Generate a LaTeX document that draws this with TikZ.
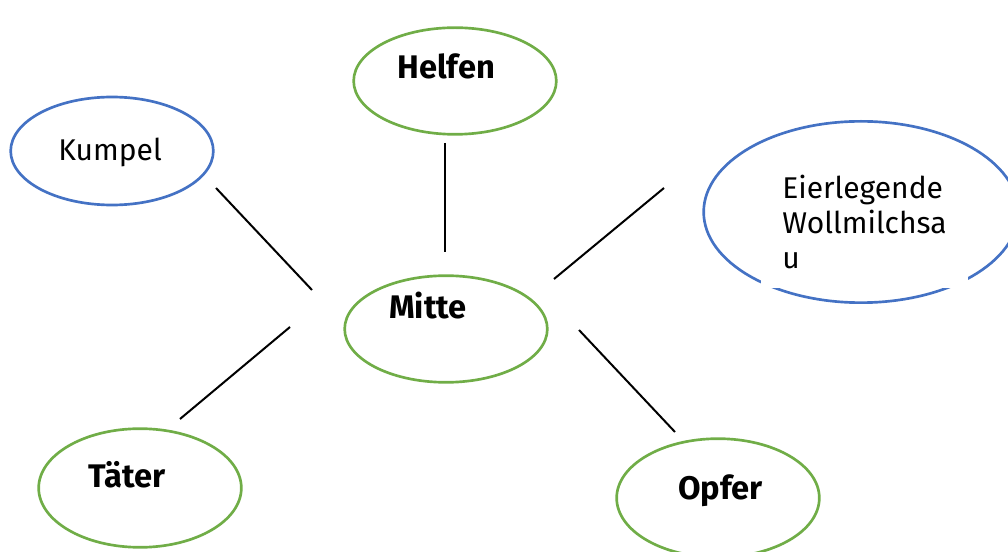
\documentclass[tikz,border=0pt]{standalone}
\usepackage{fontspec}
\setmainfont{Fira Sans}
\usetikzlibrary{shapes.geometric}
\definecolor{lgreen}{RGB}{112,173,71}
\definecolor{lblue}{RGB}{68,114,196}
\tikzset{
  bubble/.style={ellipse, draw, line width=2pt, inner sep=0pt},
  gbubble/.style={bubble, draw=lgreen},
  bbubble/.style={bubble, draw=lblue},
  lbl/.style={anchor=base west, inner sep=0pt, font=\fontsize{22.5}{26.25}\selectfont},
  blbl/.style={lbl, font=\fontsize{24.5}{28}\selectfont\bfseries},
  spoke/.style={line width=1.5pt, black}
}
\begin{document}
\begin{tikzpicture}[x=0.75pt, y=-0.75pt]
\useasboundingbox (0,0) rectangle (1008,552);
\clip (0,0) rectangle (1008,552);
% ellipses
\node[gbubble, minimum width=152pt, minimum height=80pt] (helfen) at (455,81) {};
\node[gbubble, minimum width=152pt, minimum height=80pt] (mitte) at (446,329) {};
\node[bbubble, minimum width=152pt, minimum height=81pt] (kumpel) at (112,151) {};
\node[bbubble, minimum width=236pt, minimum height=136pt] (eier) at (861,212) {};
\node[gbubble, minimum width=152pt, minimum height=89pt] (taeter) at (140,488) {};
\node[gbubble, minimum width=152pt, minimum height=89pt] (opfer) at (718,498) {};
% white box hiding part of the ellipse outline
\fill[white] (761,200) rectangle (968,288);
% labels
\node[blbl] (thelfen) at (397,79) {Helfen};
\node[blbl] (tmitte) at (389,319) {Mitte};
\node[lbl] (tkumpel) at (58,161) {Kumpel};
\node[blbl] (ttaeter) at (88,488) {Täter};
\node[blbl] (topfer) at (678,499) {Opfer};
\node[lbl, align=left] (teier) at (782,269) {Eierlegende\\Wollmilchsa\\u};
% spokes
\coordinate (k1) at (216,188); \coordinate (k2) at (312,290);
\coordinate (h1) at (445,143); \coordinate (h2) at (445,252);
\coordinate (e1) at (664,188); \coordinate (e2) at (554,279);
\coordinate (t1) at (290,327); \coordinate (t2) at (180,419);
\coordinate (o1) at (579,330); \coordinate (o2) at (675,432);
\draw[spoke] (k1) -- (k2);
\draw[spoke] (h1) -- (h2);
\draw[spoke] (e1) -- (e2);
\draw[spoke] (t1) -- (t2);
\draw[spoke] (o1) -- (o2);
\end{tikzpicture}
\end{document}
